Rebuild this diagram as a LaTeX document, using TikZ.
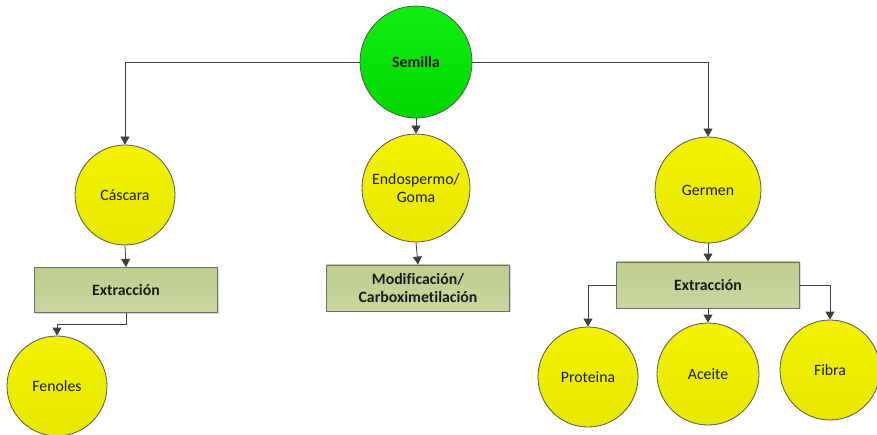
\documentclass[tikz,border=0pt]{standalone}
\usepackage{fontspec}
\setmainfont{Carlito}[Ligatures=CommonOff]
\usetikzlibrary{arrows.meta,shadows}
\definecolor{linegray}{HTML}{404040}
\definecolor{rimgray}{HTML}{555555}
\definecolor{boxrim}{HTML}{6E6E6E}
\definecolor{boxtop}{HTML}{BDCE8E}
\definecolor{boxbot}{HTML}{C9D7A0}
\definecolor{balltop}{HTML}{F2F200}
\definecolor{ballbot}{HTML}{E8E800}
\definecolor{seedtop}{HTML}{10EE10}
\definecolor{seedbot}{HTML}{00D800}
\definecolor{ink}{HTML}{1C1C1C}
\begin{document}
\begin{tikzpicture}[x=1pt,y=-1pt,
  ball/.style={circle,draw=rimgray,line width=0.8pt,minimum size=#1,inner sep=0pt,
    align=center,text=ink,font=\fontsize{15.8}{18.5}\selectfont,
    top color=balltop,bottom color=ballbot},
  ball/.default=100pt,
  seed/.style={ball=112pt,top color=seedtop,bottom color=seedbot,
    font=\fontsize{15.8}{18.5}\selectfont\bfseries},
  stepbox/.style={rectangle,draw=boxrim,line width=0.9pt,minimum width=183pt,
    minimum height=45pt,align=center,text=ink,font=\fontsize{15.8}{18.5}\selectfont\bfseries,
    top color=boxtop,bottom color=boxbot,
    drop shadow={shadow xshift=1.2pt,shadow yshift=-1.2pt,opacity=0.3}},
  link/.style={draw=linegray,line width=0.8pt,-{Triangle[width=9pt,length=8pt]}}]
\useasboundingbox (0,0) rectangle (877,435);

% top level
\node[seed] (semilla) at (416,62) {Semilla};

% second level
\node[ball=100pt] (cascara) at (125,195) {Cáscara};
\node[ball=108pt] (endo) at (416,188) {Endospermo/\\Goma};
\node[ball=106pt] (germen) at (708,190) {Germen};

% processing steps
\node[stepbox] (ext1) at (126,290) {Extracción};
\node[stepbox,minimum height=46pt] (modif) at (418,288) {Modificación/\\Carboximetilación};
\node[stepbox,minimum height=46pt] (ext2) at (708,285) {Extracción};

% products
\node[ball=100pt] (fenoles) at (57,386) {Fenoles};
\node[ball=100pt] (proteina) at (588,377) {Proteina};
\node[ball=102pt] (aceite) at (708,374) {Aceite};
\node[ball=100pt] (fibra) at (830,370) {Fibra};

% connectors
\draw[link] (semilla.west) -| (cascara.north);
\draw[link] (semilla.east) -| (germen.north);
\draw[link] (semilla.south) -- (endo.north);
\draw[link] (cascara.south) -- (ext1.north);
\draw[link] (endo.south) -- (modif.north);
\draw[link] (germen.south) -- (ext2.north);
\draw[link] (ext1.south) -- ++(0,11) -| (fenoles.north);
\draw[link] (ext2.west) -| (proteina.north);
\draw[link] (ext2.south) -- (aceite.north);
\draw[link] (ext2.east) -| (fibra.north);
\end{tikzpicture}
\end{document}
